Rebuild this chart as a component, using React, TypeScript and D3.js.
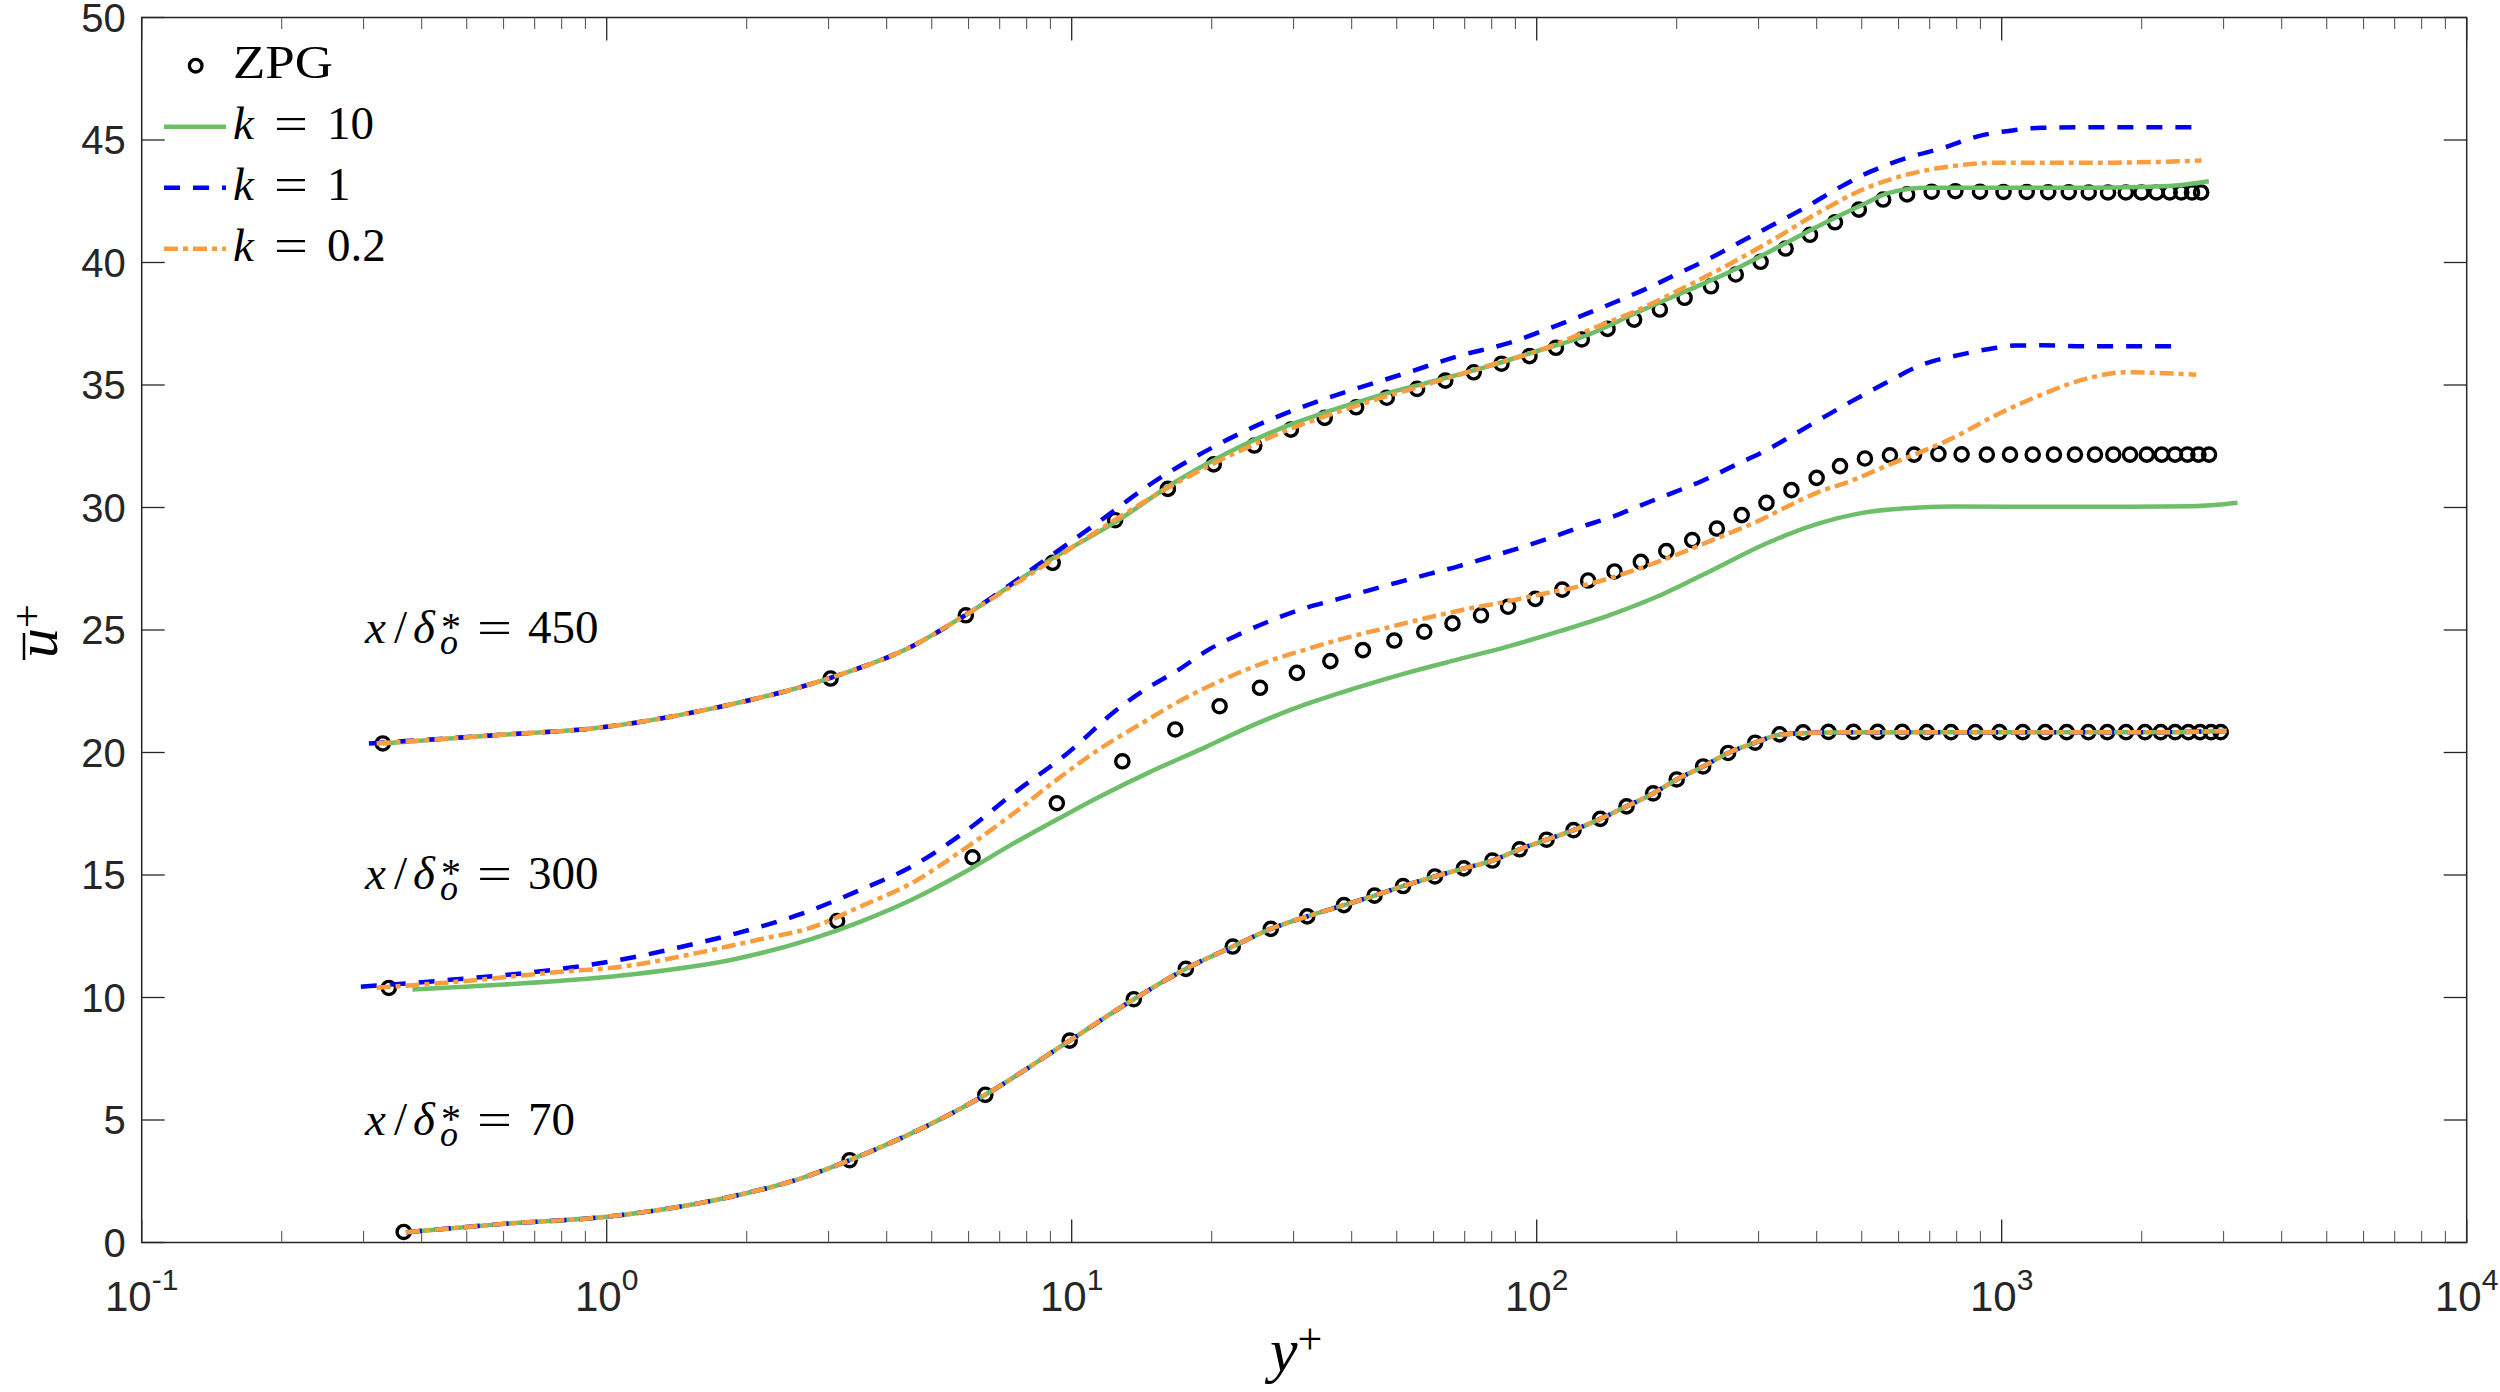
import React, { useEffect, useRef } from 'react';
import * as d3 from 'd3';

type Pt = [number, number]; // [y+, u+]

// ---- ZPG reference profiles (open circles) ----
const zpg70: Pt[] = [
  [0.366, 0.43], [3.33, 3.36], [6.52, 6.03], [9.9, 8.24], [13.6, 9.93], [17.6, 11.17], [22.2, 12.08],
  [26.8, 12.8], [32.1, 13.31], [38.5, 13.77], [44.8, 14.16], [51.6, 14.55], [60.4, 14.94], [69.7, 15.27],
  [80.3, 15.59], [91.9, 16.05], [105, 16.44], [120, 16.83], [137, 17.29], [156, 17.8], [178, 18.33],
  [200, 18.9], [228, 19.43], [258, 19.98], [295, 20.4], [333, 20.74], [374, 20.82], [424, 20.84],
  [480, 20.84], [541, 20.84], [611, 20.84], [690, 20.83], [778, 20.83], [878, 20.83], [989, 20.83],
  [1110, 20.83], [1241, 20.83], [1380, 20.83], [1536, 20.83], [1687, 20.83], [1851, 20.83], [2033, 20.83],
  [2198, 20.83], [2360, 20.83], [2520, 20.83], [2671, 20.83], [2820, 20.83], [2958, 20.83],
];

const zpg300: Pt[] = [
  [0.34, 10.39], [3.13, 13.12], [6.12, 15.72], [9.29, 17.93], [12.85, 19.64], [16.7, 20.94], [20.8, 21.89],
  [25.4, 22.64], [30.5, 23.25], [36.0, 23.73], [42.3, 24.18], [49.4, 24.57], [57.3, 24.93], [65.9, 25.27],
  [75.9, 25.6], [86.8, 25.95], [99.3, 26.27], [113.5, 26.65], [129, 27.02], [147, 27.39], [167.5, 27.78],
  [190, 28.22], [216, 28.67], [244, 29.14], [276, 29.69], [312, 30.19], [353, 30.71], [400, 31.21],
  [449, 31.69], [508, 32.0], [575, 32.13], [648, 32.16], [731, 32.19], [820, 32.17], [929, 32.16],
  [1042, 32.16], [1166, 32.16], [1295, 32.16], [1437, 32.16], [1587, 32.16], [1738, 32.16], [1888, 32.16],
  [2051, 32.16], [2209, 32.16], [2359, 32.16], [2508, 32.16], [2649, 32.16], [2792, 32.16],
];

const zpg450: Pt[] = [
  [0.33, 20.37], [3.03, 23.02], [5.92, 25.6], [9.1, 27.74], [12.4, 29.48], [16.1, 30.76], [20.2, 31.76],
  [24.7, 32.53], [29.6, 33.18], [35.0, 33.66], [40.9, 34.09], [47.6, 34.48], [55.3, 34.84], [63.6, 35.18],
  [73.2, 35.52], [84, 35.87], [96.5, 36.18], [110, 36.52], [125, 36.86], [142, 37.29], [162, 37.67],
  [184, 38.08], [208, 38.56], [237, 39.03], [268, 39.51], [303, 40.03], [343, 40.57], [387, 41.13],
  [438, 41.64], [493, 42.16], [556, 42.57], [626, 42.78], [707, 42.89], [795, 42.91], [898, 42.89],
  [1009, 42.88], [1132, 42.88], [1259, 42.87], [1394, 42.87], [1539, 42.86], [1693, 42.86], [1849, 42.86],
  [1998, 42.86], [2151, 42.86], [2298, 42.86], [2433, 42.86], [2566, 42.86], [2685, 42.86],
];

// ---- x/delta_o* = 70 : the three k cases lie on top of each other ----
const k10_70: Pt[] = [
  [0.37, 0.42], [0.6, 0.76], [1.02, 1.07], [1.87, 1.89], [2.6, 2.6], [3.33, 3.36], [6.52, 6.03],
  [9.9, 8.24], [13.6, 9.93], [17.6, 11.17], [22.2, 12.08], [26.8, 12.8], [32.1, 13.31], [38.5, 13.77],
  [44.8, 14.16], [51.6, 14.55], [60.4, 14.94], [69.7, 15.27], [80.3, 15.59], [91.9, 16.05], [105, 16.44],
  [120, 16.83], [137, 17.29], [156, 17.8], [178, 18.33], [200, 18.9], [228, 19.43], [258, 19.98],
  [295, 20.4], [333, 20.72], [424, 20.82], [690, 20.83], [1241, 20.83], [2198, 20.83], [3046, 20.88],
];
const k1_70: Pt[] = k10_70;
const k02_70: Pt[] = k10_70;

// ---- x/delta_o* = 300 ----
const k10_300: Pt[] = [
  [0.382, 10.33], [0.601, 10.53], [1.13, 10.94], [1.87, 11.55], [2.74, 12.37], [3.53, 13.11], [4.54, 14.0],
  [5.85, 15.09], [7.53, 16.31], [9.69, 17.45], [11.5, 18.2], [14.9, 19.25], [19.2, 20.18], [24.7, 21.14],
  [31.8, 21.96], [40.9, 22.64], [52.6, 23.25], [67.8, 23.8], [87.3, 24.34], [112, 24.95], [144.5, 25.63],
  [186, 26.45], [240, 27.47], [309, 28.5], [397, 29.3], [502, 29.78], [626, 29.97], [781, 30.04],
  [1216, 30.03], [1893, 30.03], [2576, 30.05], [3214, 30.19],
];
const k1_300: Pt[] = [
  [0.296, 10.44], [0.467, 10.73], [0.775, 11.14], [1.05, 11.51], [1.42, 12.03], [1.92, 12.64], [2.6, 13.39],
  [3.53, 14.41], [4.54, 15.36], [5.85, 16.72], [7.53, 18.36], [9.69, 19.9], [12.8, 21.9], [14.9, 22.75],
  [16.9, 23.35], [19.7, 24.2], [22.9, 24.82], [26.6, 25.36], [31.8, 25.9], [37, 26.24], [43, 26.59],
  [50, 26.93], [58.2, 27.27], [67.8, 27.6], [78.9, 27.97], [91.8, 28.35], [107, 28.76], [124, 29.2],
  [144.5, 29.6], [168, 30.1], [196, 30.6], [228, 31.1], [265, 31.7], [309, 32.3], [359, 33.0],
  [418, 33.73], [472, 34.3], [573, 35.16], [668, 35.8], [816, 36.24], [975, 36.52], [1065, 36.61],
  [1216, 36.62], [1517, 36.58], [1893, 36.58], [2450, 36.58],
];
const k02_300: Pt[] = [
  [0.32, 10.4], [0.467, 10.63], [0.775, 11.03], [1.1, 11.28], [1.57, 11.82], [2.13, 12.37], [2.74, 12.84],
  [3.53, 13.73], [4.54, 14.68], [5.85, 16.04], [7.53, 17.54], [9.3, 18.9], [11.6, 20.2], [14.2, 21.21],
  [17.3, 22.16], [21.2, 22.98], [25.9, 23.66], [31.8, 24.2], [38.9, 24.68], [47.6, 25.09], [58.2, 25.5],
  [71.3, 25.87], [87.3, 26.18], [101.6, 26.45], [124, 26.79], [144.5, 27.13], [168, 27.54], [196, 28.01],
  [240, 28.69], [294, 29.38], [359, 30.19], [400, 30.6], [472, 31.07], [575, 31.76], [774, 32.78],
  [991, 33.85], [1216, 34.6], [1517, 35.25], [1849, 35.52], [2113, 35.5], [2620, 35.42],
];

// ---- x/delta_o* = 450 ----
const k10_450: Pt[] = [
  [0.33, 20.37], [0.6, 20.73], [0.95, 21.0], [1.65, 21.76], [3.03, 23.05], [4.54, 24.34], [5.92, 25.62],
  [8.97, 27.85], [12.4, 29.4], [16.9, 31.1], [21.5, 32.2], [27.9, 33.2], [36, 33.95], [46.4, 34.6],
  [59.7, 35.15], [76.7, 35.7], [98.8, 36.35], [127, 37.0], [166, 38.0], [207, 38.79], [259, 39.6],
  [323, 40.53], [403, 41.48], [503, 42.37], [572, 42.84], [690, 43.05], [975, 43.05], [1517, 43.05],
  [2000, 43.08], [2362, 43.14], [2790, 43.32],
];
const k1_450: Pt[] = [
  [0.308, 20.37], [0.6, 20.73], [0.95, 21.0], [1.65, 21.76], [3.03, 23.05], [4.54, 24.34], [5.92, 25.62],
  [8.97, 28.0], [11.6, 29.5], [14.9, 31.0], [19.2, 32.25], [24.7, 33.3], [31.8, 34.15], [40.9, 34.85],
  [52.6, 35.5], [67.8, 36.18], [87.3, 36.72], [107, 37.33], [127, 37.88], [149, 38.42], [174, 38.97],
  [203, 39.58], [237, 40.19], [276, 40.87], [323, 41.55], [377, 42.23], [440, 42.98], [525, 43.73],
  [626, 44.27], [748, 44.68], [892, 45.16], [1064, 45.4], [1216, 45.5], [1517, 45.52], [1893, 45.52],
  [2600, 45.52],
];
const k02_450: Pt[] = [
  [0.32, 20.37], [0.6, 20.73], [0.95, 21.0], [1.65, 21.76], [3.03, 23.05], [4.54, 24.34], [5.92, 25.62],
  [9.0, 27.8], [12.4, 29.5], [16.1, 30.8], [20.2, 31.8], [24.7, 32.58], [29.6, 33.22], [35, 33.72],
  [40.9, 34.15], [47.6, 34.55], [55.3, 34.9], [63.6, 35.25], [73.2, 35.6], [84, 35.95], [96.5, 36.27],
  [107, 36.58], [133, 37.33], [166, 38.08], [207, 38.97], [259, 39.92], [323, 40.94], [403, 42.03],
  [503, 42.98], [626, 43.59], [782, 43.93], [975, 44.07], [1517, 44.07], [2113, 44.1], [2690, 44.16],
];

const stationLabels = ['450', '300', '70'];
const legendKeys = ['10', '1', '0.2'];
const yTicks = d3.range(0, 51, 5);
const xMajor = [0.1, 1, 10, 100, 1000, 10000];
const xExp = ['-1', '0', '1', '2', '3', '4'];

const W = 2500;
const H = 1392;
const GREEN = '#6cbf68';
const BLUE = '#0000f5';
const ORANGE = '#f99d3e';
const AXIS = '#262626';
const SERIF = "'Liberation Serif', 'DejaVu Serif', serif";
const SANS = "'Liberation Sans', Arial, sans-serif";

export default function App() {
  const ref = useRef<SVGSVGElement>(null);

  useEffect(() => {
    const svg = d3.select(ref.current);
    svg.selectAll('*').remove();

    const left = 141.7;
    const right = 2466.7;
    const top = 17.5;
    const bottom = 1242.5;

    const x = d3.scaleLog().domain([0.1, 10000]).range([left, right]);
    const y = d3.scaleLinear().domain([0, 50]).range([bottom, top]);

    svg.append('rect').attr('width', W).attr('height', H).attr('fill', '#fff');

    // axis box
    svg
      .append('rect')
      .attr('x', left)
      .attr('y', top)
      .attr('width', right - left)
      .attr('height', bottom - top)
      .attr('fill', 'none')
      .attr('stroke', AXIS)
      .attr('stroke-width', 1.5);

    const ticks = svg.append('g').attr('stroke', AXIS);
    yTicks.forEach((t) => {
      ticks.append('line').attr('x1', left).attr('x2', left + 23).attr('y1', y(t)).attr('y2', y(t)).attr('stroke-width', 1.3);
      ticks.append('line').attr('x1', right).attr('x2', right - 23).attr('y1', y(t)).attr('y2', y(t)).attr('stroke-width', 1.3);
    });
    xMajor.forEach((t) => {
      ticks.append('line').attr('x1', x(t)).attr('x2', x(t)).attr('y1', bottom).attr('y2', bottom - 23).attr('stroke-width', 1.3);
      ticks.append('line').attr('x1', x(t)).attr('x2', x(t)).attr('y1', top).attr('y2', top + 23).attr('stroke-width', 1.3);
    });
    const minors: number[] = [];
    xMajor.slice(0, -1).forEach((d) => d3.range(2, 10).forEach((m) => minors.push(d * m)));
    minors.forEach((t) => {
      ticks.append('line').attr('x1', x(t)).attr('x2', x(t)).attr('y1', bottom).attr('y2', bottom - 11.5).attr('stroke', '#5a5a5a').attr('stroke-width', 1.1);
      ticks.append('line').attr('x1', x(t)).attr('x2', x(t)).attr('y1', top).attr('y2', top + 11.5).attr('stroke', '#5a5a5a').attr('stroke-width', 1.1);
    });

    // tick labels
    svg
      .append('g')
      .selectAll('text')
      .data(yTicks)
      .join('text')
      .attr('x', left - 16)
      .attr('y', (d) => y(d))
      .attr('dy', '0.36em')
      .attr('text-anchor', 'end')
      .attr('font-family', SANS)
      .attr('font-size', 40)
      .attr('fill', AXIS)
      .text((d) => d);

    const xl = svg
      .append('g')
      .selectAll('text')
      .data(xMajor)
      .join('text')
      .attr('x', (d) => x(d))
      .attr('y', 1311)
      .attr('text-anchor', 'middle')
      .attr('font-family', SANS)
      .attr('font-size', 42)
      .attr('fill', AXIS);
    xl.append('tspan').text('10');
    xl.append('tspan')
      .attr('dy', -21)
      .attr('font-size', 30)
      .text((_, i) => xExp[i]);

    // axis labels
    const xlab = svg.append('text').attr('x', 1270).attr('y', 1371).attr('font-family', SERIF).attr('font-size', 62);
    xlab.append('tspan').attr('font-style', 'italic').text('y');
    xlab.append('tspan').attr('dy', -17).attr('font-size', 44).text('+');

    const ylab = svg.append('g').attr('transform', 'translate(57,630) rotate(-90)');
    const yt = ylab.append('text').attr('x', -28).attr('y', 0).attr('font-family', SERIF).attr('font-size', 60);
    yt.append('tspan').attr('font-style', 'italic').text('u');
    yt.append('tspan').attr('dy', -16).attr('font-size', 42).text('+');
    ylab.append('line').attr('x1', -30).attr('x2', -3).attr('y1', -33).attr('y2', -33).attr('stroke', '#000').attr('stroke-width', 2.5);

    // curves
    const line = d3
      .line<Pt>()
      .x((d) => x(d[0]))
      .y((d) => y(d[1]))
      .curve(d3.curveMonotoneX);

    const plot = svg.append('g');

    [zpg70, zpg300, zpg450].forEach((set) => {
      plot
        .append('g')
        .selectAll('circle')
        .data(set)
        .join('circle')
        .attr('cx', (d) => x(d[0]))
        .attr('cy', (d) => y(d[1]))
        .attr('r', 6.6)
        .attr('fill', 'none')
        .attr('stroke', '#000')
        .attr('stroke-width', 3.4);
    });

    const styles = [
      { color: GREEN, dash: null as string | null, sets: [k10_70, k10_300, k10_450] },
      { color: BLUE, dash: '16,13', sets: [k1_70, k1_300, k1_450] },
      { color: ORANGE, dash: '14,5,5,5', sets: [k02_70, k02_300, k02_450] },
    ];
    styles.forEach((s) => {
      s.sets.forEach((set) => {
        plot
          .append('path')
          .attr('d', line(set))
          .attr('fill', 'none')
          .attr('stroke', s.color)
          .attr('stroke-width', 4.5)
          .attr('stroke-dasharray', s.dash)
          .attr('stroke-linejoin', 'round');
      });
    });

    // station annotations
    const ann = svg.append('g').attr('font-family', SERIF).attr('fill', '#000');
    const annBase = [643, 889, 1135];
    stationLabels.forEach((lab, i) => {
      const b = annBase[i];
      const x0 = 365;
      ann.append('text').attr('x', x0).attr('y', b).attr('font-size', 47).attr('font-style', 'italic').text('x');
      ann.append('text').attr('x', x0 + 29).attr('y', b).attr('font-size', 47).text('/');
      ann.append('text').attr('x', x0 + 48).attr('y', b).attr('font-size', 47).attr('font-style', 'italic').text('δ');
      // superscript * and subscript o stacked after delta
      const so = ann.append('text').attr('x', x0 + 76).attr('y', b - 3).attr('font-size', 40);
      so.append('tspan').text('*');
      so.append('tspan').attr('x', x0 + 75).attr('y', b + 11).attr('font-size', 36).attr('font-style', 'italic').text('o');
      ann.append('text').attr('x', x0 + 112).attr('y', b).attr('font-size', 47).attr('textLength', 35).attr('lengthAdjust', 'spacingAndGlyphs').text('=');
      ann.append('text').attr('x', x0 + 163).attr('y', b).attr('font-size', 47).text(lab);
    });

    // legend
    const leg = svg.append('g').attr('font-family', SERIF).attr('font-size', 47);
    leg.append('circle').attr('cx', 195.7).attr('cy', 65.7).attr('r', 6.3).attr('fill', 'none').attr('stroke', '#000').attr('stroke-width', 3.3);
    leg.append('text').attr('x', 233).attr('y', 78.3).attr('textLength', 100).attr('lengthAdjust', 'spacingAndGlyphs').text('ZPG');
    legendKeys.forEach((k, i) => {
      const s = styles[i];
      const base = 138.5 + i * 61;
      leg
        .append('line')
        .attr('x1', 164)
        .attr('x2', 226)
        .attr('y1', base - 11.8)
        .attr('y2', base - 11.8)
        .attr('stroke', s.color)
        .attr('stroke-width', 4.5)
        .attr('stroke-dasharray', s.dash);
      leg.append('text').attr('x', 233).attr('y', base).attr('font-style', 'italic').text('k');
      leg.append('text').attr('x', 274).attr('y', base).attr('textLength', 34).attr('lengthAdjust', 'spacingAndGlyphs').text('=');
      leg.append('text').attr('x', 327).attr('y', base).text(k);
    });
  }, []);

  return <svg ref={ref} width={W} height={H} style={{ position: 'absolute', left: 0, top: 0 }} />;
}
